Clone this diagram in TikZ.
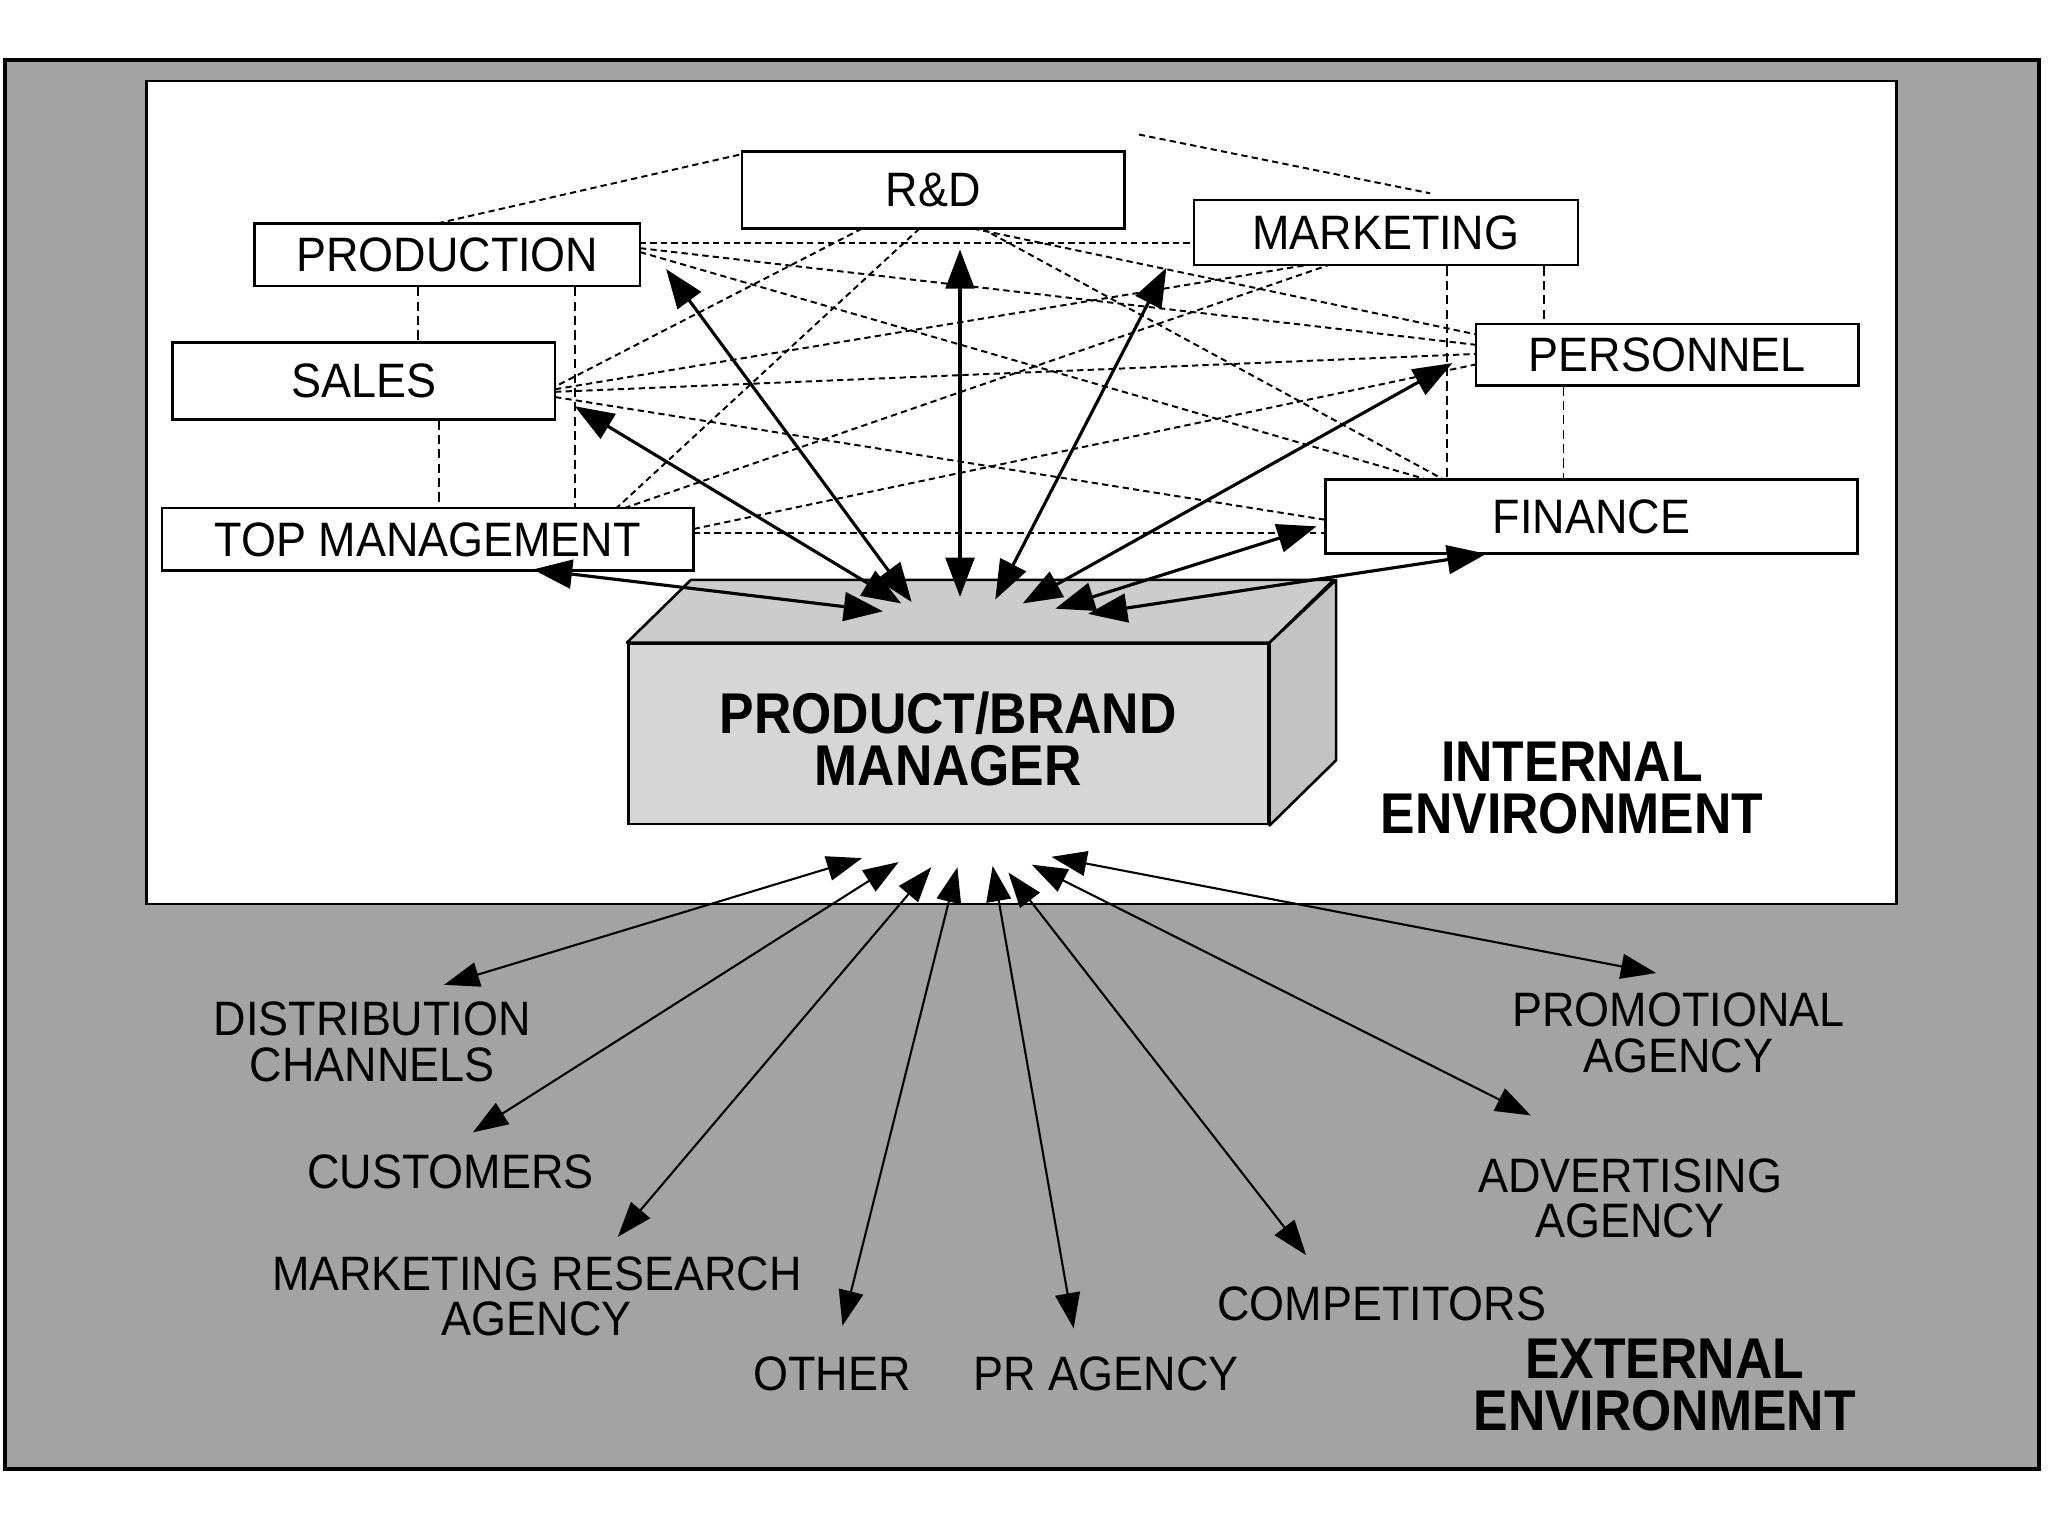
\documentclass[tikz,border=0pt]{standalone}
\usepackage{fontspec}
\setmainfont{Liberation Sans}
\newfontfamily\lblfont[FakeStretch=0.93]{Liberation Sans}
\newfontfamily\bldfont[FakeStretch=0.9]{Liberation Sans}
\usetikzlibrary{arrows.meta}
\definecolor{extgray}{gray}{0.64}
\definecolor{pbmgray}{gray}{0.84}
\definecolor{pbmtop}{gray}{0.8}
\definecolor{pbmside}{gray}{0.76}
\tikzset{
  box/.style={draw=black, line width=1pt, fill=white, inner sep=0pt,
    font=\lblfont\fontsize{18.5}{17.5}\selectfont},
  lbl/.style={inner sep=0pt, align=center,
    font=\lblfont\fontsize{18.5}{17.5}\selectfont},
  blbl/.style={inner sep=0pt, align=center,
    font=\bldfont\bfseries\fontsize{22}{20}\selectfont},
  dsh/.style={line width=0.75pt, dash pattern=on 2.4pt off 1.6pt},
  vdsh/.style={line width=0.7pt, dash pattern=on 3.5pt off 2pt},
  biarrow/.style={line width=1.2pt,
    {Triangle[length=15pt,width=11pt]}-{Triangle[length=15pt,width=11pt]}},
  extarrow/.style={line width=0.8pt,
    {Triangle[length=13.5pt,width=9.5pt]}-{Triangle[length=13.5pt,width=9.5pt]}},
  pbmface/.style={draw=black, line width=1pt, line join=round}
}
\begin{document}
\begin{tikzpicture}[x=0.5pt,y=-0.5pt]
\useasboundingbox (0,0) rectangle (1568,1176);
% environments
\fill[white] (0,0) rectangle (1568,1176);
\filldraw[fill=extgray, draw=black, line width=1.6pt] (4,46) rectangle (1561,1125);
\filldraw[fill=white, draw=black, line width=1pt] (112,62) rectangle (1452,692);

% dashed interconnections (drawn first, boxes cover their ends)
\coordinate (dA1) at (335,171);  \coordinate (dA2) at (568,118);
\coordinate (dB1) at (872,103);  \coordinate (dB2) at (1095,148);
\coordinate (pE1) at (490,186);  \coordinate (mW1) at (914,186);
\coordinate (pE2) at (490,190);  \coordinate (rW1) at (1130,264);
\coordinate (pE3) at (490,193);  \coordinate (fN1) at (1092,367);
\coordinate (rS1) at (660,175);  \coordinate (sE1) at (425,296);
\coordinate (rS2) at (704,175);  \coordinate (tN1) at (472,389);
\coordinate (rS3) at (745,175);  \coordinate (rW2) at (1130,256);
\coordinate (rS4) at (752,175);  \coordinate (fN2) at (1105,367);
\coordinate (sE2) at (425,298);  \coordinate (mS1) at (1000,203);
\coordinate (sE3) at (425,300);  \coordinate (rW3) at (1130,271);
\coordinate (sE4) at (425,304);  \coordinate (fW1) at (1015,398);
\coordinate (tN2) at (478,389);  \coordinate (mS2) at (1017,203);
\coordinate (tE1) at (531,408);  \coordinate (fW2) at (1015,408);
\coordinate (tE2) at (531,405);  \coordinate (rW4) at (1130,279);
\draw[dsh] (dA1) -- (dA2);
\draw[dsh] (dB1) -- (dB2);
\draw[dsh] (pE1) -- (mW1);
\draw[dsh] (pE2) -- (rW1);
\draw[dsh] (pE3) -- (fN1);
\draw[dsh] (rS1) -- (sE1);
\draw[dsh] (rS2) -- (tN1);
\draw[dsh] (rS3) -- (rW2);
\draw[dsh] (rS4) -- (fN2);
\draw[dsh] (sE2) -- (mS1);
\draw[dsh] (sE3) -- (rW3);
\draw[dsh] (sE4) -- (fW1);
\draw[dsh] (tN2) -- (mS2);
\draw[dsh] (tE1) -- (fW2);
\draw[dsh] (tE2) -- (rW4);

% department boxes
\node[box, minimum width=146.5pt, minimum height=29.5pt] (rd)    at (714.5,145.5) {R\&D};
\node[box, minimum width=147.5pt, minimum height=24pt]   (prod)  at (342.5,195)   {PRODUCTION};
\node[box, minimum width=147pt,   minimum height=25pt]   (mkt)   at (1061,178)    {MARKETING};
\node[box, minimum width=146.5pt, minimum height=29.5pt] (sales) at (278.5,291.5) {SALES};
\node[box, minimum width=146.5pt, minimum height=23.5pt] (pers)  at (1276.5,271.5) {PERSONNEL};
\node[box, minimum width=203.5pt, minimum height=24pt]   (top)   at (327.5,413)   {TOP MANAGEMENT};
\node[box, minimum width=203.5pt, minimum height=28.5pt] (fin)   at (1218.5,395.5) {FINANCE};

% vertical dashed links
\draw[vdsh] (prod.south -| 320,0) -- (sales.north -| 320,0);
\draw[vdsh] (prod.south -| 440,0) -- (top.north -| 440,0);
\draw[vdsh] (sales.south -| 336,0) -- (top.north -| 336,0);
\draw[vdsh] (mkt.south -| 1108,0) -- (fin.north -| 1108,0);
\draw[vdsh] (mkt.south -| 1182,0) -- (pers.north -| 1182,0);
\draw[vdsh] (pers.south -| 1197,0) -- (fin.north -| 1197,0);

% product / brand manager block
\node[draw=black, line width=1pt, fill=pbmgray, minimum width=245pt, minimum height=69pt, inner sep=0pt] (pbm) at (726,562) {};
\filldraw[pbmface, fill=pbmtop] (pbm.north west) -- ++(49,-48) -- ++(492,0) -- (pbm.north east) -- cycle;
\filldraw[pbmface, fill=pbmside] (pbm.north east) -- ++(51,-48) -- ++(0,138) -- (pbm.south east) -- cycle;
\node[blbl] (pbmtext) at (726,565.5) {PRODUCT/BRAND\\MANAGER};

% internal arrows
\coordinate (hTop)  at (676,468);  \coordinate (aTop)  at (408,436);
\coordinate (hSal)  at (690,462);  \coordinate (aSal)  at (440,311);
\coordinate (hPro)  at (698,461);  \coordinate (aPro)  at (510,206);
\coordinate (hRD)   at (735,457);  \coordinate (aRD)   at (735,191);
\coordinate (hMkt)  at (762,459);  \coordinate (aMkt)  at (893,205);
\coordinate (hPer)  at (783,462);  \coordinate (aPer)  at (1112,278);
\coordinate (hFin1) at (808,466);  \coordinate (aFin1) at (1008,403);
\coordinate (hFin2) at (833,470);  \coordinate (aFin2) at (1138,424);
\draw[biarrow] (hTop) -- (aTop);
\draw[biarrow] (hSal) -- (aSal);
\draw[biarrow] (hPro) -- (aPro);
\draw[biarrow] (hRD) -- (aRD);
\draw[biarrow] (hMkt) -- (aMkt);
\draw[biarrow] (hPer) -- (aPer);
\draw[biarrow] (hFin1) -- (aFin1);
\draw[biarrow] (hFin2) -- (aFin2);

\node[blbl] (intenv) at (1203.5,603.5) {INTERNAL\\ENVIRONMENT};

% external labels
\node[lbl] (dist)  at (285,797.5)  {DISTRIBUTION\\CHANNELS};
\node[lbl] (cust)  at (345,897)    {CUSTOMERS};
\node[lbl] (mra)   at (411,992.5)  {MARKETING RESEARCH\\AGENCY};
\node[lbl] (other) at (637,1052)   {OTHER};
\node[lbl] (pr)    at (847,1052)   {PR AGENCY};
\node[lbl] (comp)  at (1058,998)   {COMPETITORS};
\node[lbl] (adv)   at (1248,917.5) {ADVERTISING\\AGENCY};
\node[lbl] (promo) at (1285,791)   {PROMOTIONAL\\AGENCY};
\node[blbl] (extenv) at (1274.5,1060.5) {EXTERNAL\\ENVIRONMENT};

% external arrows
\coordinate (eDist)  at (660,657);  \coordinate (xDist)  at (340,754);
\coordinate (eCust)  at (688,660);  \coordinate (xCust)  at (362,867);
\coordinate (eMra)   at (713,664);  \coordinate (xMra)   at (473,947);
\coordinate (eOth)   at (733,664);  \coordinate (xOth)   at (645,1015);
\coordinate (ePr)    at (760,663);  \coordinate (xPr)    at (822,1017);
\coordinate (eComp)  at (772,668);  \coordinate (xComp)  at (1000,961);
\coordinate (eAdv)   at (790,662);  \coordinate (xAdv)   at (1172,854);
\coordinate (ePromo) at (805,656);  \coordinate (xPromo) at (1268,745);
\draw[extarrow] (eDist) -- (xDist);
\draw[extarrow] (eCust) -- (xCust);
\draw[extarrow] (eMra) -- (xMra);
\draw[extarrow] (eOth) -- (xOth);
\draw[extarrow] (ePr) -- (xPr);
\draw[extarrow] (eComp) -- (xComp);
\draw[extarrow] (eAdv) -- (xAdv);
\draw[extarrow] (ePromo) -- (xPromo);
\end{tikzpicture}
\end{document}
